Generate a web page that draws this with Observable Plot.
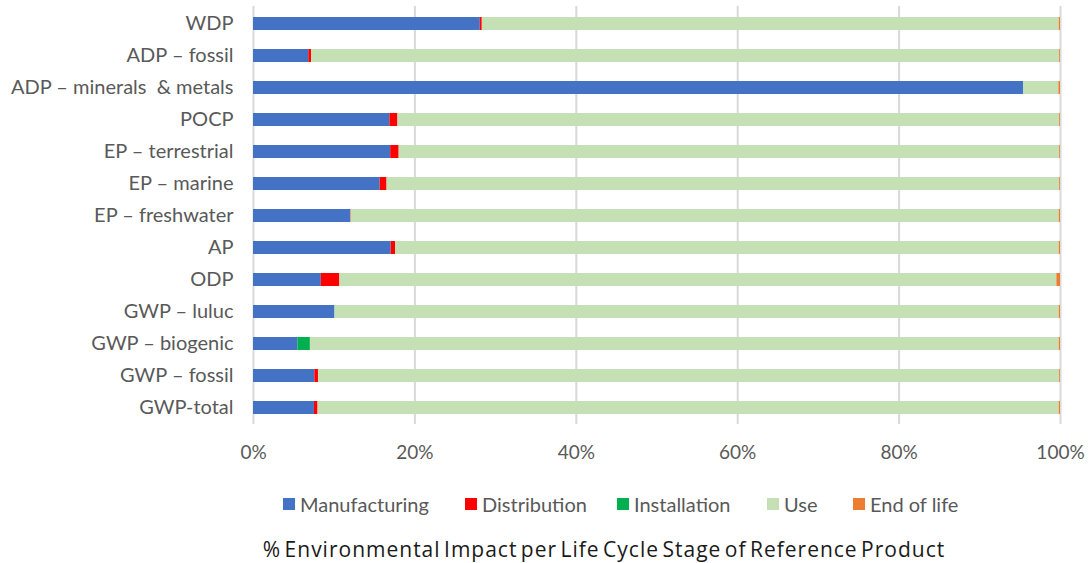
<!DOCTYPE html>
<html>
<head>
<meta charset="utf-8">
<script src="https://cdn.jsdelivr.net/npm/d3@7"></script>
<script src="https://cdn.jsdelivr.net/npm/@observablehq/plot@0.6"></script>
<style>
  body { margin: 0; background: #fff; font-family: Lato, "Open Sans", sans-serif; }
  #wrap { position: relative; width: 1092px; height: 563px; }
  #legend { position: absolute; top: 492px; left: 0; width: 1092px; height: 26px; font-size: 20px; color: #595959; }
  .item { position: absolute; display: flex; align-items: center; white-space: nowrap; }
  .sw { width: 12px; height: 12px; margin-right: 5px; }
  #title { position: absolute; top: 535px; left: 0; width: 1092px; text-align: center; font-family: "Open Sans", sans-serif; font-size: 21px; color: #1a1a1a; letter-spacing: 1px; word-spacing: -3px; padding-left: 116px; box-sizing: border-box; }
</style>
</head>
<body>
<div id="wrap">
  <div id="chart"></div>
  <div id="legend"></div>
  <div id="title"></div>
</div>
<script>
const categories = ["WDP","ADP – fossil","ADP – minerals  & metals","POCP","EP – terrestrial","EP – marine","EP – freshwater","AP","ODP","GWP – luluc","GWP – biogenic","GWP – fossil","GWP-total"];
const stages = ["Manufacturing","Distribution","Installation","Use","End of life"];
const stageColors = ["#4472C4","#FF0000","#00B050","#C5E0B4","#ED7D31"];
const manufacturing = [28.1, 6.85, 95.45, 16.9, 17.0, 15.7, 12.05, 17.05, 8.4, 10.1, 5.5, 7.6, 7.55];
const distribution  = [0.25, 0.35, 0.0, 1.0, 1.05, 0.85, 0.05, 0.55, 2.3, 0.0, 0.0, 0.45, 0.45];
const installation  = [0, 0, 0, 0, 0, 0, 0, 0, 0, 0, 1.55, 0, 0];
const use           = [71.5, 92.7, 4.35, 82.0, 81.85, 83.35, 87.75, 82.25, 88.85, 89.75, 92.8, 91.85, 91.85];
const endOfLife     = [0.15, 0.1, 0.2, 0.1, 0.1, 0.1, 0.15, 0.15, 0.45, 0.15, 0.15, 0.1, 0.15];
const xTicks = [0, 20, 40, 60, 80, 100];
const xTickLabels = ["0%","20%","40%","60%","80%","100%"];
const titleText = "% Environmental Impact per Life Cycle Stage of Reference Product";

const series = [manufacturing, distribution, installation, use, endOfLife];
const data = [];
categories.forEach((c, i) => {
  stages.forEach((s, j) => data.push({category: c, stage: s, value: series[j][i]}));
});

const chart = Plot.plot({
  width: 1092,
  height: 470,
  marginLeft: 253,
  marginRight: 32,
  marginTop: 6,
  marginBottom: 46,
  style: {fontFamily: "Lato, sans-serif", fontSize: "20px", color: "#595959", background: "#fff"},
  x: {domain: [0, 100], label: null},
  y: {domain: categories, paddingInner: 0.6, paddingOuter: 0.28, label: null},
  color: {domain: stages, range: stageColors},
  marks: [
    Plot.ruleX(xTicks, {stroke: "#d9d9d9", strokeWidth: 2}),
    Plot.barX(data, Plot.stackX({order: stages, x: "value", y: "category", fill: "stage", z: "stage"})),
    Plot.axisX(xTicks, {tickSize: 0, tickPadding: 21, tickFormat: (d, i) => xTickLabels[i], label: null, fontSize: 19}),
    Plot.axisY({tickSize: 0, tickPadding: 20, label: null, fontSize: 20})
  ]
});
document.getElementById("chart").appendChild(chart);

const legendLefts = [283, 465, 617, 767, 853];
const legend = document.getElementById("legend");
stages.forEach((s, i) => {
  const it = document.createElement("div");
  it.className = "item";
  it.style.left = legendLefts[i] + "px";
  const sw = document.createElement("div");
  sw.className = "sw";
  sw.style.background = stageColors[i];
  const t = document.createElement("span");
  t.textContent = s;
  it.appendChild(sw); it.appendChild(t);
  legend.appendChild(it);
});
document.getElementById("title").textContent = titleText;
</script>
</body>
</html>
